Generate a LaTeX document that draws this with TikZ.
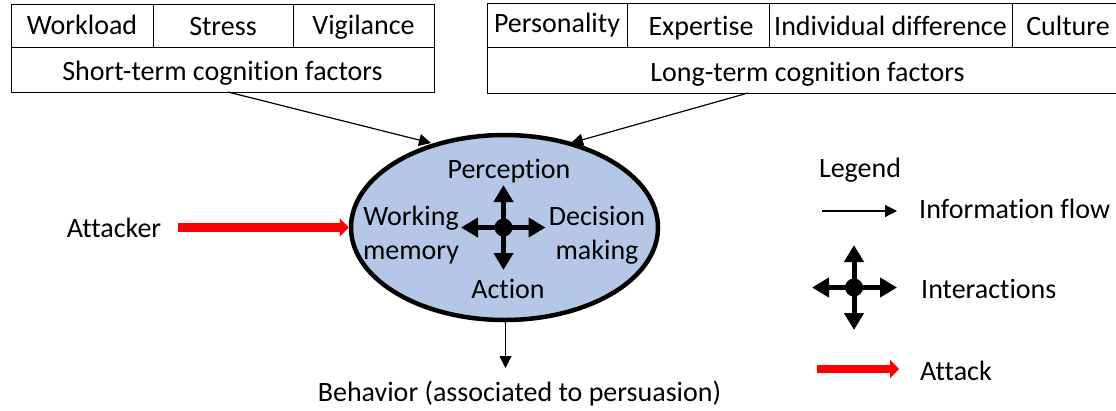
\documentclass[tikz,border=0pt]{standalone}
\usepackage{fontspec}
\setmainfont[Ligatures=NoCommon]{Carlito}
\usetikzlibrary{arrows.meta,shapes.geometric}
\definecolor{ellfill}{HTML}{B4C7E7}
\tikzset{
 cell/.style={draw=black,line width=1pt,inner sep=0pt,font=\fontsize{28}{30}\selectfont},
 lbl/.style={inner sep=0pt,font=\fontsize{28}{34}\selectfont,align=center},
 flow/.style={draw=black,line width=1.2pt,-{Triangle[length=12pt,width=12pt]}},
 attack/.style={draw=red,line width=8.5pt,-{Triangle[length=9pt,width=18pt]}},
 inter/.style={draw=black,line width=5pt,-{Triangle[length=17pt,width=19pt]}},
 dot/.style={circle,fill=black,inner sep=0pt,minimum size=18pt},
}
\newcommand{\cellbox}[7]{\node[cell,minimum width=#3 pt,minimum height=#4 pt,text height=#7 pt,text depth=0pt] (#6) at (#1,#2) {#5};}
\begin{document}
\begin{tikzpicture}[x=1pt,y=-1pt]
\useasboundingbox (0,0) rectangle (1116,410);
\cellbox{82}{25.5}{142}{43}{Workload}{b1}{18}
\cellbox{223}{25.5}{140}{43}{Stress}{b2}{20}
\cellbox{363.5}{25.5}{141}{43}{Vigilance}{b3}{18}
\cellbox{222.5}{69.5}{423}{45}{Short-term cognition factors}{b4}{22}
\cellbox{557}{25}{140}{44}{Personality}{c1}{14}
\cellbox{698}{25}{142}{44}{\hspace*{6pt}Expertise}{c2}{20}
\cellbox{890.5}{25}{243}{44}{Individual difference}{c3}{20}
\cellbox{1068}{25}{112}{44}{Culture}{c4}{20}
\cellbox{807.5}{70}{641}{46}{Long-term cognition factors}{c5}{22}
\node[ellipse,draw=black,line width=4.5pt,fill=ellfill,minimum width=307pt,minimum height=185pt,inner sep=0pt,anchor=center] (cog) at (504.5,227.5) {};
\node[lbl] (perc) at (509,171) {Perception};
\node[lbl] (wm) at (411,235) {Working\\memory};
\node[lbl] (dm) at (597,235) {Decision\\making};
\node[lbl] (act) at (508,289) {Action};
\node[dot] (hub) at (503.5,227.5) {};
\coordinate (hu) at (503.5,185);
\coordinate (hd) at (503.5,270);
\coordinate (hl) at (461,227.5);
\coordinate (hr) at (545.5,227.5);
\draw[inter] (hub.center) -- (hu);
\draw[inter] (hub.center) -- (hd);
\draw[inter] (hub.center) -- (hl);
\draw[inter] (hub.center) -- (hr);
\coordinate (s1) at (228,92);
\coordinate (e1) at (431,143);
\coordinate (s2) at (748,93);
\coordinate (e2) at (571,143);
\draw[flow] (s1) -- (e1);
\draw[flow] (s2) -- (e2);
\node[lbl] (attacker) at (114,228) {Attacker};
\coordinate (a0) at (178,227.5);
\draw[attack] (a0) -- (cog.west);
\node[lbl] (beh) at (519.5,393.5) {Behavior (associated to persuasion)};
\coordinate (bs) at (505.5,320);
\coordinate (be) at (505.5,368);
\draw[flow] (bs) -- (be);
\node[lbl] (leg) at (860,170) {Legend};
\coordinate (f0) at (822,211);
\coordinate (f1) at (897,211);
\draw[flow] (f0) -- (f1);
\node[lbl,anchor=west] (lf) at (919,209) {Information flow};
\node[dot] (lh) at (854,287.5) {};
\coordinate (lu) at (854,245);
\coordinate (ld) at (854,330);
\coordinate (ll) at (812,287.5);
\coordinate (lr) at (897,287.5);
\draw[inter] (lh.center) -- (lu);
\draw[inter] (lh.center) -- (ld);
\draw[inter] (lh.center) -- (ll);
\draw[inter] (lh.center) -- (lr);
\node[lbl,anchor=west] (li) at (921,289) {Interactions};
\coordinate (k0) at (817,369);
\coordinate (k1) at (899,369);
\draw[attack] (k0) -- (k1);
\node[lbl,anchor=west] (la) at (920,371) {Attack};
\end{tikzpicture}
\end{document}
